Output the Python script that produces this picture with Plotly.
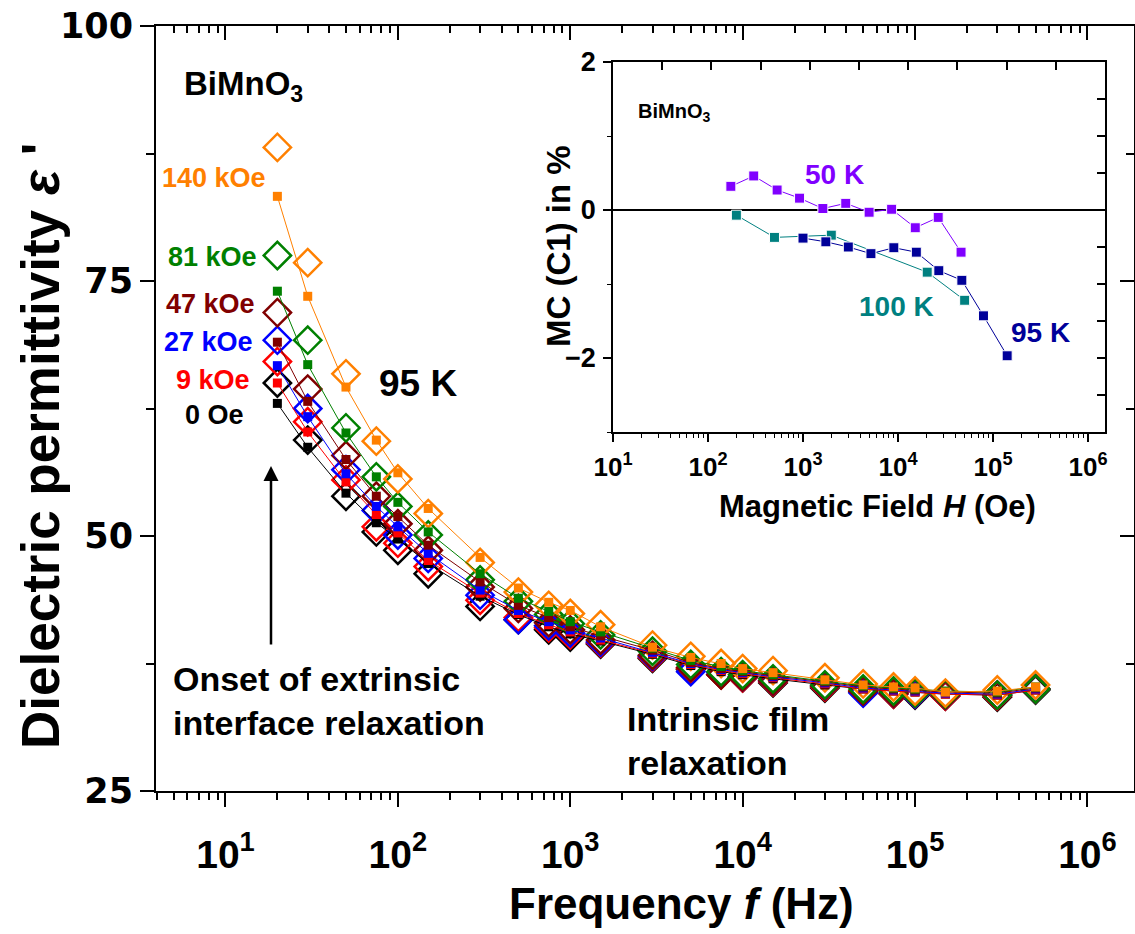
import plotly.graph_objects as go

W, H = 1135, 934

# ---------------- data: main panel ----------------
freq = [20, 30, 50, 75, 100, 150, 300, 500, 750, 1e3, 1.5e3, 3e3, 5e3, 7.5e3,
        1e4, 1.5e4, 3e4, 5e4, 7.5e4, 1e5, 1.5e5, 3e5, 5e5]

fields = ["0 Oe", "9 kOe", "27 kOe", "47 kOe", "81 kOe", "140 kOe"]
colors = ["#000000", "#FF0000", "#0000FF", "#800000", "#008000", "#FF8000"]

eps_open_0 = [65.0, 59.4, 53.9, 50.4, 48.6, 46.3, 43.1, 41.8, 40.8, 40.1, 39.4, 38.0, 36.9, 36.4, 36.1, 35.6, 35.1, 34.7, 34.5, 34.4, 34.3, 34.2, 34.9]
eps_open_9 = [67.1, 61.2, 55.5, 50.9, 49.3, 47.0, 43.7, 42.0, 41.0, 40.3, 39.5, 38.1, 37.0, 36.4, 36.1, 35.7, 35.2, 34.8, 34.5, 34.5, 34.3, 34.3, 35.0]
eps_open_27 = [69.2, 62.5, 56.5, 52.5, 50.1, 47.8, 44.2, 41.8, 41.2, 40.5, 39.6, 38.2, 36.7, 36.6, 36.2, 35.8, 35.3, 34.6, 34.6, 34.5, 34.4, 34.4, 35.0]
eps_open_47 = [71.9, 64.4, 57.9, 53.9, 51.2, 48.6, 45.0, 42.9, 41.5, 40.8, 39.8, 38.3, 37.1, 36.4, 36.2, 35.8, 35.3, 34.8, 34.6, 34.6, 34.4, 34.4, 35.0]
eps_open_81 = [77.5, 69.2, 60.6, 55.8, 52.9, 50.1, 45.7, 43.6, 42.3, 41.4, 40.3, 38.7, 37.4, 36.7, 36.4, 36.0, 35.4, 35.0, 34.8, 34.6, 34.5, 34.4, 35.0]
eps_open_140 = [88.1, 76.8, 65.9, 59.3, 55.6, 52.2, 47.4, 44.5, 43.2, 42.4, 41.3, 39.3, 38.2, 37.5, 37.0, 36.8, 36.1, 35.5, 35.2, 34.8, 34.6, 34.9, 35.4]

eps_sq_0 = [63.0, 58.7, 54.2, 51.3, 49.7, 47.3, 44.1, 42.3, 41.1, 40.4, 39.7, 38.4, 37.3, 36.7, 36.4, 36.0, 35.4, 35.0, 34.8, 34.7, 34.5, 34.4, 34.9]
eps_sq_9 = [65.0, 60.2, 55.3, 52.1, 50.3, 47.6, 44.4, 42.4, 41.3, 40.6, 39.8, 38.5, 37.4, 36.8, 36.5, 36.1, 35.5, 35.0, 34.8, 34.7, 34.5, 34.4, 34.9]
eps_sq_27 = [66.7, 61.7, 56.1, 52.9, 50.9, 48.3, 44.7, 42.7, 41.6, 40.8, 40.0, 38.6, 37.5, 36.9, 36.6, 36.2, 35.6, 35.1, 34.9, 34.8, 34.6, 34.5, 35.0]
eps_sq_47 = [69.0, 63.2, 57.5, 53.9, 51.9, 49.1, 45.5, 43.2, 42.0, 41.1, 40.2, 38.8, 37.6, 37.0, 36.7, 36.3, 35.7, 35.2, 35.0, 34.9, 34.7, 34.6, 35.1]
eps_sq_81 = [74.0, 66.8, 60.1, 55.8, 53.3, 50.4, 46.3, 43.9, 42.6, 41.6, 40.6, 39.0, 37.8, 37.2, 36.8, 36.4, 35.8, 35.3, 35.1, 35.0, 34.8, 34.7, 35.2]
eps_sq_140 = [83.3, 73.5, 64.6, 59.4, 56.2, 52.7, 47.9, 44.9, 43.5, 42.7, 41.1, 39.1, 38.1, 37.5, 37.0, 36.6, 35.9, 35.4, 35.2, 35.1, 34.7, 34.8, 35.2]

eps_open = [eps_open_0, eps_open_9, eps_open_27, eps_open_47, eps_open_81, eps_open_140]
eps_sq = [eps_sq_0, eps_sq_9, eps_sq_27, eps_sq_47, eps_sq_81, eps_sq_140]

# ---------------- data: inset ----------------
H_50K = [174, 303, 534, 920, 1618, 2818, 4966, 8570, 15200, 26500, 46100]
MC_50K = [0.32, 0.46, 0.27, 0.16, 0.02, 0.09, -0.03, 0.01, -0.24, -0.10, -0.57]
H_100K = [199, 501, 1986, 20300, 50300]
MC_100K = [-0.07, -0.37, -0.34, -0.84, -1.22]
H_95K = [1000, 1740, 3000, 5190, 9040, 15600, 26900, 47000, 79400, 141000]
MC_95K = [-0.38, -0.43, -0.50, -0.59, -0.51, -0.57, -0.82, -0.95, -1.43, -1.97]

c50, c100, c95 = "#8000FF", "#008080", "#000099"

dec_vals = [10, 100, 1e3, 1e4, 1e5, 1e6]
dec_text = ["10<sup>%d</sup>" % i for i in range(1, 7)]
minor_vals = [m * 10 ** e for e in range(0, 7) for m in range(2, 10)]

FONT = "Liberation Sans, Arial, sans-serif"


def px(x):
    return x / W


def py(y):
    return 1 - y / H


fig = go.Figure()

# open diamonds
for lab, col, ys in zip(fields, colors, eps_open):
    fig.add_trace(go.Scatter(
        x=freq, y=ys, mode="markers", name=lab + " open",
        marker=dict(symbol="diamond-open", size=21, color=col, line=dict(width=2.5, color=col)),
        xaxis="x", yaxis="y", showlegend=False, hoverinfo="skip"))
# filled squares with lines
for lab, col, ys in zip(fields, colors, eps_sq):
    fig.add_trace(go.Scatter(
        x=freq, y=ys, mode="lines+markers", name=lab,
        line=dict(width=1, color=col),
        marker=dict(symbol="square", size=9, color=col, line=dict(width=0)),
        xaxis="x", yaxis="y", showlegend=False, hoverinfo="skip"))

# dummy trace for mirrored main axes
fig.add_trace(go.Scatter(x=[1e3], y=[60], mode="markers", marker=dict(opacity=0),
                         xaxis="x3", yaxis="y3", showlegend=False, hoverinfo="skip"))

# inset traces
for hx, mc, col in [(H_50K, MC_50K, c50), (H_100K, MC_100K, c100), (H_95K, MC_95K, c95)]:
    fig.add_trace(go.Scatter(
        x=hx, y=mc, mode="lines+markers",
        line=dict(width=1, color=col),
        marker=dict(symbol="square", size=10, color=col, line=dict(width=1, color="white")),
        xaxis="x2", yaxis="y2", showlegend=False, hoverinfo="skip"))
fig.add_trace(go.Scatter(x=[1], y=[0], mode="markers", marker=dict(opacity=0),
                         xaxis="x4", yaxis="y4", showlegend=False, hoverinfo="skip"))

main_xdom = [px(156), px(1134)]
main_ydom = [py(791), py(26)]
inset_xdom = [px(613), px(1105)]
inset_ydom = [py(432), py(62)]
xr_main = [0.597, 6.270]
xr_inset = [1.0, 6.179]

fig.update_layout(
    width=W, height=H, margin=dict(l=0, r=0, t=0, b=0, autoexpand=False),
    paper_bgcolor="white", plot_bgcolor="white", showlegend=False,
    xaxis=dict(type="log", range=xr_main, domain=main_xdom, anchor="y", automargin=False,
               showline=True, linecolor="black", linewidth=2, mirror=False,
               ticks="outside", ticklen=14, tickwidth=2, tickcolor="black",
               tickvals=dec_vals, ticktext=dec_text, showgrid=False, zeroline=False,
               tickfont=dict(family=FONT, size=39, color="black", weight="bold"),
               ticklabelstandoff=14,
               minor=dict(tickvals=minor_vals, ticks="outside", ticklen=7, tickwidth=1.5,
                          tickcolor="black", showgrid=False)),
    yaxis=dict(range=[25, 100], domain=main_ydom, anchor="x", automargin=False,
               showline=True, linecolor="black", linewidth=2,
               ticks="outside", ticklen=14, tickwidth=2, tickcolor="black",
               tickvals=[25, 50, 75, 100], showgrid=False, zeroline=False,
               tickfont=dict(family="DejaVu Sans, sans-serif", size=35, color="black", weight="bold"),
               ticklabelstandoff=0,
               minor=dict(dtick=12.5, ticks="outside", ticklen=8, tickwidth=1.5,
                          tickcolor="black", showgrid=False)),
    xaxis3=dict(type="log", range=xr_main, overlaying="x", side="top", anchor="y", automargin=False,
                showline=True, linecolor="black", linewidth=2,
                ticks="inside", ticklen=14, tickwidth=2, tickcolor="black",
                tickvals=dec_vals, showticklabels=False, showgrid=False, zeroline=False,
                minor=dict(tickvals=minor_vals, ticks="inside", ticklen=7, tickwidth=1.5,
                           tickcolor="black", showgrid=False)),
    yaxis3=dict(range=[25, 100], overlaying="y", side="right", anchor="x", automargin=False,
                showline=True, linecolor="black", linewidth=2,
                ticks="inside", ticklen=14, tickwidth=2, tickcolor="black",
                tickvals=[25, 50, 75, 100], showticklabels=False, showgrid=False, zeroline=False,
                minor=dict(dtick=12.5, ticks="inside", ticklen=8, tickwidth=1.5,
                           tickcolor="black", showgrid=False)),
    xaxis2=dict(type="log", range=xr_inset, domain=inset_xdom, anchor="y2", automargin=False,
                showline=True, linecolor="black", linewidth=1.5,
                ticks="outside", ticklen=8, tickwidth=1.5, tickcolor="black",
                tickvals=dec_vals, ticktext=dec_text, showgrid=False, zeroline=False,
                tickfont=dict(family=FONT, size=26, color="black", weight="bold"),
                ticklabelstandoff=3,
                minor=dict(tickvals=minor_vals, ticks="outside", ticklen=4, tickwidth=1,
                           tickcolor="black", showgrid=False)),
    yaxis2=dict(range=[-3, 2], domain=inset_ydom, anchor="x2", automargin=False,
                showline=True, linecolor="black", linewidth=1.5,
                ticks="outside", ticklen=8, tickwidth=1.5, tickcolor="black",
                tickvals=[-2, 0, 2], showgrid=False,
                zeroline=True, zerolinecolor="black", zerolinewidth=2,
                tickfont=dict(family=FONT, size=27, color="black", weight="bold"),
                ticklabelstandoff=2,
                minor=dict(dtick=1, ticks="outside", ticklen=4, tickwidth=1,
                           tickcolor="black", showgrid=False)),
    xaxis4=dict(range=[0, 10], overlaying="x2", side="top", anchor="y2", automargin=False,
                showline=True, linecolor="black", linewidth=2,
                ticks="inside", ticklen=8, tickwidth=1.5, tickcolor="black",
                dtick=1, showticklabels=False, showgrid=False, zeroline=False),
    yaxis4=dict(range=[-3, 2], overlaying="y2", side="right", anchor="x2", automargin=False,
                showline=True, linecolor="black", linewidth=1.5,
                ticks="inside", ticklen=8, tickwidth=1.5, tickcolor="black",
                dtick=0.5, showticklabels=False, showgrid=False, zeroline=False),
)

ann = []


def txt(text, x, y, size, color="black", xanchor="left", yanchor="middle",
        textangle=0, align="left"):
    ann.append(dict(text=text, x=px(x), y=py(y), xref="paper", yref="paper",
                    xanchor=xanchor, yanchor=yanchor, showarrow=False, align=align,
                    textangle=textangle,
                    font=dict(family=FONT, size=size, color=color, weight="bold")))


# main texts
txt("BiMnO<sub>3</sub>", 182, 86, 33)
label_pos = {"140 kOe": (268, 178), "81 kOe": (259, 257), "47 kOe": (257, 304),
             "27 kOe": (255, 342), "9 kOe": (252, 380), "0 Oe": (246, 415)}
for lab, col in zip(fields, colors):
    xx, yy = label_pos[lab]
    txt(lab, xx, yy, 27, color=col, xanchor="right")
txt("95 K", 377, 383, 37)
txt("Onset of extrinsic<br>interface relaxation", 171, 701, 34)
txt("Intrinsic film<br>relaxation", 625, 741, 34)

# arrow
ann.append(dict(x=px(271), y=py(466), xref="paper", yref="paper", ax=0, ay=180,
                axref="pixel", ayref="pixel", text="", showarrow=True,
                arrowhead=2, arrowsize=1.2, arrowwidth=2.5, arrowcolor="black"))

# axis titles
txt("Dielectric permittivity <i>ε</i> '", 40, 446, 53, xanchor="center", textangle=-90)
txt("Frequency <i>f</i> (Hz)", 681, 903, 44, xanchor="center")

# inset texts
txt("BiMnO<sub>3</sub>", 636, 112, 20)
txt("50 K", 803, 175, 28, color=c50)
txt("100 K", 857, 306, 28, color=c100)
txt("95 K", 1009, 332, 28, color=c95)
txt("MC (C1) in %", 558, 246, 33, xanchor="center", textangle=-90)
txt("Magnetic Field <i>H</i> (Oe)", 877, 506, 31, xanchor="center")

fig.update_layout(annotations=ann)
fig.write_html("out.html")
